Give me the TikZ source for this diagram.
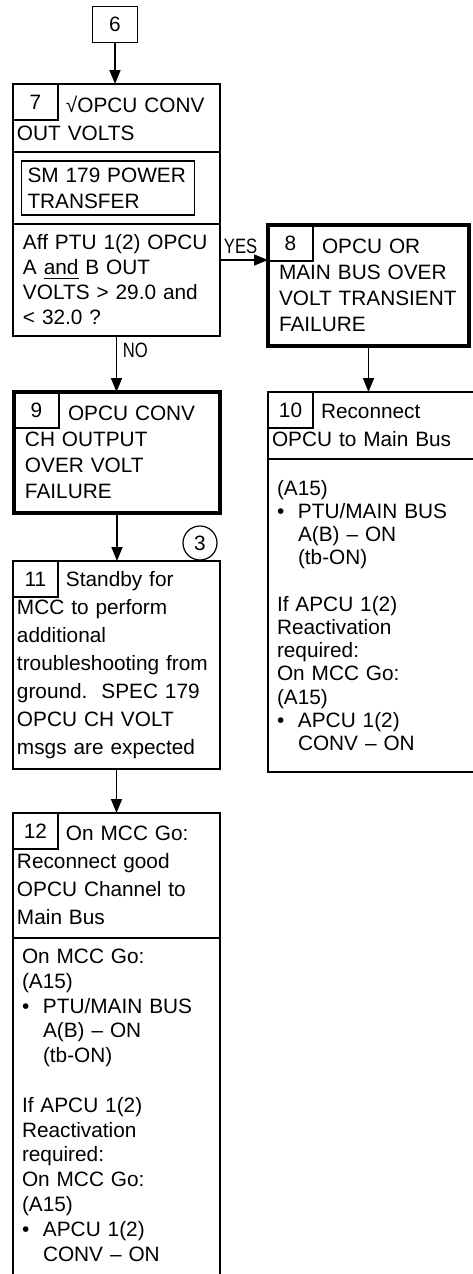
\documentclass[tikz,border=0pt]{standalone}
\usepackage{graphicx}
\usepackage{fontspec}
\setmainfont{Liberation Sans}
\usetikzlibrary{arrows.meta,positioning}
\frenchspacing
\newcommand{\nrw}[1]{\scalebox{.8}[1]{#1}}
\newcommand{\bulpt}{\makebox[10.5pt][l]{\textbullet}}
\newcommand{\bulind}{\hspace*{10.5pt}}

\begin{document}
\begin{tikzpicture}[x=.5pt,y=-.5pt,font=\fontsize{10.4}{13}\selectfont,
 hd/.style={draw,line width=.75pt,outer sep=0pt,anchor=north west,align=left,inner xsep=2pt,inner ysep=0pt,text width=99.5pt,font=\fontsize{10.4}{14}\selectfont},
 bd/.style={hd,inner xsep=4.5pt,text width=94.5pt,font=\fontsize{10.4}{11.6}\selectfont},
 fail/.style={draw,line width=2pt,outer sep=0pt,anchor=north west,align=left,inner xsep=5.5pt,inner ysep=0pt,text width=92pt,minimum height=60.5pt},
 num/.style={draw,line width=.6pt,outer sep=0pt,anchor=north west,minimum width=22.5pt,minimum height=18pt,inner sep=0pt},
 inbox/.style={draw,line width=.8pt,outer sep=0pt,anchor=west,align=left,inner xsep=3pt,inner ysep=0pt,text width=80.5pt,minimum height=27pt},
 arr/.style={-{Triangle[length=7pt,width=5.5pt]},line width=.8pt},
 lbl/.style={inner sep=2.8pt}]
\useasboundingbox (0,0) rectangle (472,1274);
\node[num,anchor=center] (s6) at (115,24.5) {6};
\node[hd,minimum height=34pt] (s7h) at (13,84) {\hspace*{24.5pt}√OPCU CONV\\OUT VOLTS};
\node[num] (n7) at (s7h.north west) {7};
\node[hd,minimum height=36pt] (s7m) at (s7h.south west) {};
\node[inbox] (s7x) at ([xshift=4.25pt]s7m.west) {SM 179 POWER\\TRANSFER};
\node[hd,inner xsep=5pt,text width=93.5pt,minimum height=56pt,font=\fontsize{10.4}{12.5}\selectfont] (s7q) at (s7m.south west) {Aff PTU 1(2) OPCU\\A \underline{and} B OUT\\VOLTS > 29.0 and\\< 32.0 ?};
\node[fail,text width=89.5pt] (s8) at (268,225) {\hspace*{21.5pt}OPCU OR\\MAIN BUS OVER\\VOLT TRANSIENT\\FAILURE};
\node[num] (n8) at (s8.north west) {8};
\node[fail] (s9) at (14,392) {\hspace*{21.5pt}OPCU CONV\\CH OUTPUT\\OVER VOLT\\FAILURE};
\node[num] (n9) at (s9.north west) {9};
\node[hd,text width=101pt,minimum height=33.5pt] (s10h) at (268,392) {\hspace*{24.5pt}Reconnect\\OPCU to Main Bus};
\node[num] (n10) at (s10h.north west) {10};
\node[bd,text width=96pt,minimum height=156.5pt] (s10b) at (s10h.south west) {(A15)\\\bulpt PTU/MAIN BUS\\\bulind A(B) – ON\\\bulind (tb-ON)\\[11.6pt]If APCU 1(2)\\Reactivation\\required:\\On MCC Go:\\(A15)\\\bulpt APCU 1(2)\\\bulind CONV – ON};
\node[hd,minimum height=104pt] (s11) at (13,561) {\hspace*{24.5pt}Standby for\\MCC to perform\\additional\\troubleshooting from\\ground.\ \ SPEC 179\\OPCU CH VOLT\\msgs are expected};
\node[num] (n11) at (s11.north west) {11};
\node[draw,circle,line width=.6pt,minimum size=17pt,inner sep=0pt] (c3) at (200,543) {3};
\node[hd,minimum height=62.5pt] (s12h) at (13,813) {\hspace*{24.5pt}On MCC Go:\\Reconnect good\\OPCU Channel to\\Main Bus};
\node[num] (n12) at (s12h.north west) {12};
\node[bd,draw=none,inner ysep=5.5pt,font=\fontsize{10.4}{12.4}\selectfont] (s12b) at (s12h.south west) {On MCC Go:\\(A15)\\\bulpt PTU/MAIN BUS\\\bulind A(B) – ON\\\bulind (tb-ON)\\[12.4pt]If APCU 1(2)\\Reactivation\\required:\\On MCC Go:\\(A15)\\\bulpt APCU 1(2)\\\bulind CONV – ON};
\draw[line width=.75pt] (s12h.south west) -- ++(0,400) (s12h.south east) -- ++(0,400);
\coordinate (yes) at ([yshift=-18pt]s7q.north east);
\draw[arr] (s6.south) -- (s6.south |- s7h.north);
\draw[arr] (yes) -- node[lbl,above,pos=.43] (yestxt) {\nrw{YES}} (yes -| s8.west);
\draw[arr] (s7q.south) -- node[lbl,right,pos=.25] (notxt) {\nrw{NO}} (s7q.south |- s9.north);
\draw[arr] (s8.south) -- (s8.south |- s10h.north);
\draw[arr] (s9.south) -- (s9.south |- s11.north);
\draw[arr] (s11.south) -- (s11.south |- s12h.north);
\end{tikzpicture}
\end{document}
